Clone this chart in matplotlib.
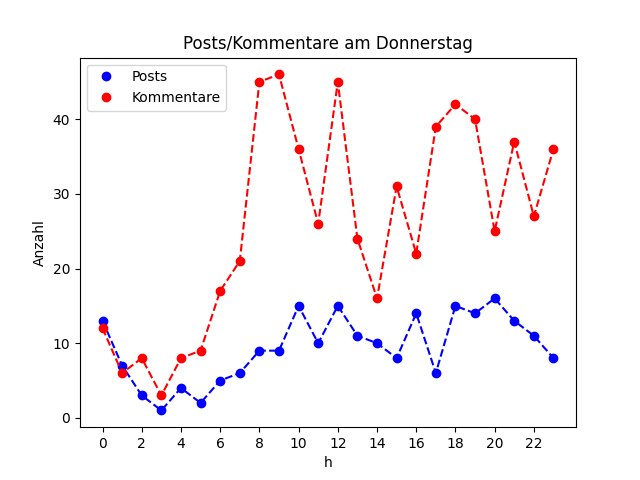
import numpy as np
from matplotlib import pyplot as plt

hours = list(range(24))
posts = [13, 7, 3, 1, 4, 2, 5, 6, 9, 9, 15, 10, 15, 11, 10, 8, 14, 6, 15, 14, 16, 13, 11, 8]
kommentare = [12, 6, 8, 3, 8, 9, 17, 21, 45, 46, 36, 26, 45, 24, 16, 31, 22, 39, 42, 40, 25, 37, 27, 36]

fig, ax = plt.subplots(figsize=(6.4, 4.8), dpi=100)
ax.plot(hours, posts, 'bo', label='Posts')
ax.plot(hours, posts, 'b--')
ax.plot(hours, kommentare, 'ro', label='Kommentare')
ax.plot(hours, kommentare, 'r--')
ax.set_xticks(np.arange(0, 24, 2))
ax.set_title("Posts/Kommentare am Donnerstag")
ax.set_xlabel("h")
ax.set_ylabel("Anzahl")
ax.legend(loc='upper left')
fig.savefig('out.png')
